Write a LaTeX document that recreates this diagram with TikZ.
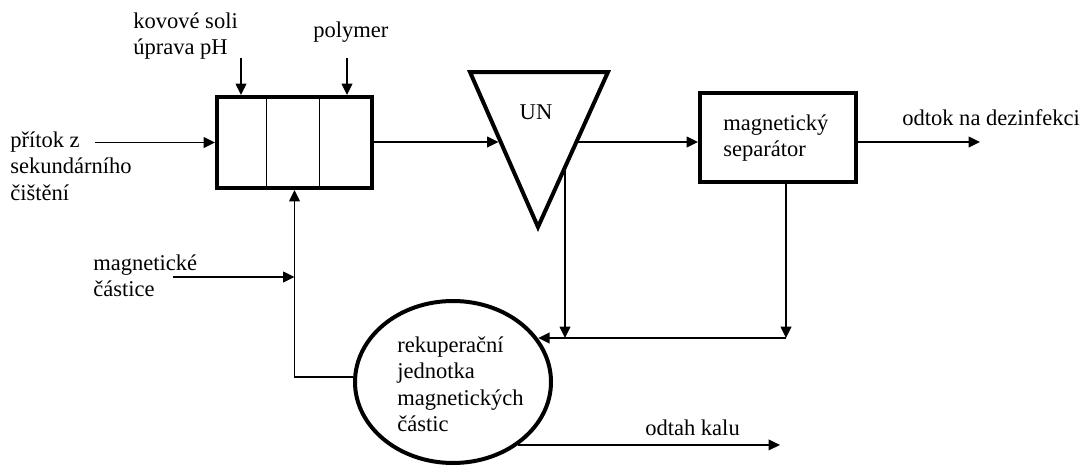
\documentclass[tikz,border=0pt]{standalone}
\usepackage{fontspec}
\setmainfont{Liberation Serif}
\usetikzlibrary{arrows.meta,shapes.geometric,calc}
\newcommand\mlines[1]{\begin{tabular}[t]{@{}l@{}}#1\end{tabular}}
\begin{document}
\begin{tikzpicture}[x=0.75pt,y=-0.75pt,
  thickbox/.style={draw,line width=3pt,inner sep=0pt},
  arr/.style={line width=1.1pt,-{Triangle[length=8.5pt,width=8pt]}},
  thin/.style={line width=1.1pt},
  lbl/.style={inner sep=0pt,anchor=base west,font=\fontsize{16.9}{19.9}\selectfont}]
\useasboundingbox (0,0) rectangle (1090,468);
% main units
\node[thickbox,rectangle,minimum width=116.25pt,minimum height=68.25pt] (mix) at (294.5,142.5) {};
\draw[line width=1.2pt] ($(mix.north west)!0.323!(mix.north east)$) -- ($(mix.south west)!0.323!(mix.south east)$);
\draw[line width=1.2pt] ($(mix.north west)!0.658!(mix.north east)$) -- ($(mix.south west)!0.658!(mix.south east)$);
\draw[line width=3pt,line join=miter] (470,72) coordinate (ua) -- (608,72) coordinate (ub) -- (538,227) coordinate (uc) -- cycle;
\node[lbl,anchor=base] (untxt) at (536,119) {UN};
\node[thickbox,rectangle,minimum width=117pt,minimum height=66.75pt] (sep) at (778,137.5) {};
\node[lbl] (septxt) at (723,130) {\mlines{magnetický\\separátor}};
\node[thickbox,ellipse,minimum width=147pt,minimum height=121.5pt] (rec) at (453,382) {};
\node[lbl] (rectxt) at (397,352) {\mlines{rekuperační\\jednotka\\magnetických\\částic}};
% labels
\node[lbl] (ltin) at (10,147) {\mlines{přítok z\\sekundárního\\čištění}};
\node[lbl] (ltks) at (133,28) {\mlines{kovové soli\\úprava pH}};
\node[lbl] (ltpol) at (313,37) {polymer};
\node[lbl] (ltmag) at (93,270) {\mlines{magnetické\\částice}};
\node[lbl] (ltodt) at (902,125) {odtok na dezinfekci};
\node[lbl] (ltkal) at (645,435) {odtah kalu};
% coordinates
\coordinate (in) at (95,142.5);
\coordinate (ks) at (241,58);
\coordinate (pol) at (347,58);
\coordinate (unin) at (498.5,142);
\coordinate (unout) at (578,142);
\coordinate (unb) at (565,169);
\coordinate (join) at (786,338);
\coordinate (odt) at (980,142);
\coordinate (kal) at (780,445);
\coordinate (mp) at (173,277);
% connectors
\draw[arr] (in) -- (in -| mix.west);
\draw[arr] (ks) -- (ks |- mix.north);
\draw[arr] (pol) -- (pol |- mix.north);
\draw[arr] (mix.east |- unin) -- (unin);
\draw[arr] (unout) -- (unout -| sep.west);
\draw[arr] (sep.east |- odt) -- (odt);
\draw[arr] (unb) -- (unb |- join);
\draw[arr] (join |- sep.south) -- (join);
\draw[arr] (join) -- (join -| rec.27);
\draw[arr] (rec.177) -| (mix.south);
\draw[arr] (mp) -- (mp -| mix.south);
\draw[arr] (rec.-44) -- (rec.-44 -| kal);
\end{tikzpicture}
\end{document}
